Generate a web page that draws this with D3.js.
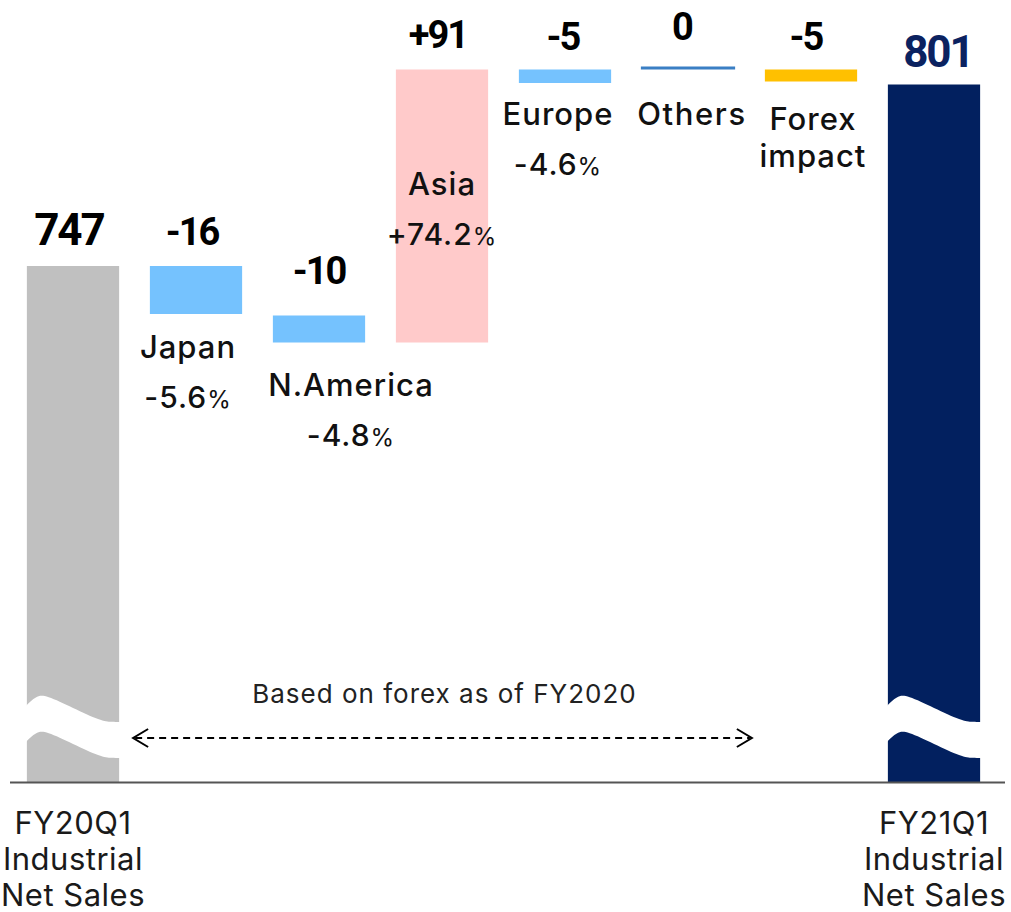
<!DOCTYPE html>
<html>
<head>
<meta charset="utf-8">
<script src="https://cdn.jsdelivr.net/npm/d3@7"></script>
<style>
  body { margin: 0; background: #fff; }
  text { font-family: Inter, "Noto Sans", sans-serif; }
</style>
</head>
<body>
<div id="chart"></div>
<script>
// categories, value labels and category labels
const categories = ["FY20Q1", "Japan", "N.America", "Asia", "Europe", "Others", "Forex", "FY21Q1"];
const valueLabels = ["747", "-16", "-10", "+91", "-5", "0", "-5", "801"];
const catNames = [null, ["Japan"], ["N.America"], ["Asia"], ["Europe"], ["Others"], ["Forex", "impact"], null];
const catRates = [null, "-5.6", "-4.8", "+74.2", "-4.6", null, null, null];
const bottomLabels = [["FY20Q1", "Industrial", "Net Sales"], null, null, null, null, null, null, ["FY21Q1", "Industrial", "Net Sales"]];
// bar levels (broken axis, totals start at 0)
const barLow  = [0,   731, 721.5, 721.5, 808,   813, 808.5, 0];
const barHigh = [747, 747, 730.5, 812.5, 812.5, 813, 812.5, 807.5];
const kinds = ["total", "down", "down", "up", "down", "flat", "forex", "end"];

const width = 1011, height = 912;
const color = {total: "#c0c0c0", down: "#75c2fe", up: "#ffcaca", flat: "#3a7fc4", forex: "#ffc000", end: "#02205f"};

// label nudges (px)
const valDx = [-4, -4, 0, -4, -2, -6, -5, 4];
const valDy = [21, 21, 32, 22, 20, 28, 20, 18];
const catDx = [0, -8, 32, 0, -7, 4, 2, 0];
const catDy = [0, 44, 53, 0, 42, 57, 48, 0];

const svg = d3.select("#chart")
  .append("svg")
  .attr("width", width)
  .attr("height", height);

const x = d3.scaleBand()
  .domain(categories)
  .range([11.5, 995.5])
  .paddingInner(0.25)
  .paddingOuter(0.125);

const y = d3.scaleLinear()
  .domain([575, 830])
  .range([782, 17])
  .clamp(true);

const bw = x.bandwidth();
const data = categories.map((c, i) => ({c, i, lo: barLow[i], hi: barHigh[i], kind: kinds[i]}));

// bars
svg.selectAll("rect.bar")
  .data(data.filter(d => d.kind !== "flat"))
  .join("rect")
  .attr("class", "bar")
  .attr("x", d => x(d.c))
  .attr("y", d => y(d.hi))
  .attr("width", bw)
  .attr("height", d => y(d.lo) - y(d.hi))
  .attr("fill", d => color[d.kind]);

// zero change line
svg.selectAll("line.flat")
  .data(data.filter(d => d.kind === "flat"))
  .join("line")
  .attr("x1", d => x(d.c) - 1)
  .attr("x2", d => x(d.c) + bw + 1)
  .attr("y1", d => y(d.hi))
  .attr("y2", d => y(d.hi))
  .attr("stroke", color.flat)
  .attr("stroke-width", 3);

// axis break (wavy white band across the totals)
const breakTop = y(602.7);
const wave = d3.line().curve(d3.curveBasis);
data.filter(d => d.kind === "total" || d.kind === "end").forEach(d => {
  const x0 = x(d.c) - 1, x1 = x(d.c) + bw + 1;
  const topPts = [[x0, 7], [x0 + 10, -3], [x0 + 20, -4], [x0 + 47, 9], [x0 + 75, 22], [x0 + 86, 23], [x1, 23]]
    .map(p => [p[0], breakTop + p[1]]);
  const botPts = topPts.map(p => [p[0], p[1] + 36]).reverse();
  const top = wave(topPts), bot = wave(botPts);
  svg.append("path")
    .attr("d", top + "L" + bot.slice(1) + "Z")
    .attr("fill", "#fff");
});

// baseline
svg.append("line")
  .attr("x1", 10).attr("x2", 1005)
  .attr("y1", y(0) + 0.5).attr("y2", y(0) + 0.5)
  .attr("stroke", "#555")
  .attr("stroke-width", 2);

// value labels on top
svg.selectAll("text.val")
  .data(data)
  .join("text")
  .attr("class", "val")
  .attr("x", d => x(d.c) + bw / 2 + valDx[d.i])
  .attr("y", d => y(d.hi) - valDy[d.i])
  .attr("text-anchor", "middle")
  .style("font-family", "Roboto, sans-serif")
  .style("font-weight", 700)
  .style("font-size", d => (d.kind === "total" || d.kind === "end") ? "44px" : "38px")
  .style("letter-spacing", "-2px")
  .attr("fill", d => d.kind === "end" ? "#0b2260" : "#000")
  .text((d, i) => valueLabels[i]);

// category labels under / inside the bars
data.forEach(d => {
  const names = catNames[d.i];
  if (!names) return;
  const cx = x(d.c) + bw / 2 + catDx[d.i];
  const base = d.kind === "up" ? 195 : y(d.lo) + catDy[d.i];
  const g = svg.append("g");
  names.forEach((n, k) => {
    g.append("text")
      .attr("x", cx)
      .attr("y", base + k * 37)
      .attr("text-anchor", "middle")
      .style("font-size", "31px")
      .style("font-weight", 500)
      .style("letter-spacing", d.kind === "flat" ? "1.6px" : "1px")
      .attr("fill", "#111")
      .text(n);
  });
  if (catRates[d.i]) {
    const t = g.append("text")
      .attr("x", cx)
      .attr("y", base + 50)
      .attr("text-anchor", "middle")
      .style("font-size", "30px")
      .style("font-weight", 500)
      .style("letter-spacing", "1px")
      .attr("fill", "#111");
    t.append("tspan").text(catRates[d.i]);
    t.append("tspan").style("font-size", "24px").style("font-weight", 400).text("%");
  }
});

// bottom labels for totals
data.forEach(d => {
  const lines = bottomLabels[d.i];
  if (!lines) return;
  lines.forEach((l, k) => {
    svg.append("text")
      .attr("x", x(d.c) + bw / 2)
      .attr("y", 834 + k * 36)
      .attr("text-anchor", "middle")
      .style("font-size", "31px")
      .style("font-weight", 400)
      .style("letter-spacing", "0.5px")
      .attr("fill", "#1a1a1a")
      .text(l);
  });
});

// forex note with dashed double arrow
const ax0 = x("FY20Q1") + bw + 14, ax1 = x("Forex") - 13, ay = 738;
svg.append("line")
  .attr("x1", ax0 + 2).attr("x2", ax1 - 2)
  .attr("y1", ay).attr("y2", ay)
  .attr("stroke", "#000")
  .attr("stroke-width", 2)
  .attr("stroke-dasharray", "7,5");
svg.append("path")
  .attr("d", `M${ax0 + 15},${ay - 9}L${ax0},${ay}L${ax0 + 15},${ay + 9}`)
  .attr("fill", "none").attr("stroke", "#000").attr("stroke-width", 2);
svg.append("path")
  .attr("d", `M${ax1 - 15},${ay - 9}L${ax1},${ay}L${ax1 - 15},${ay + 9}`)
  .attr("fill", "none").attr("stroke", "#000").attr("stroke-width", 2);
svg.append("text")
  .attr("x", (ax0 + ax1) / 2 + 2)
  .attr("y", 703)
  .attr("text-anchor", "middle")
  .style("font-size", "26px")
  .style("font-weight", 400)
  .style("letter-spacing", "1px")
  .attr("fill", "#222")
  .text("Based on forex as of FY2020");
</script>
</body>
</html>
